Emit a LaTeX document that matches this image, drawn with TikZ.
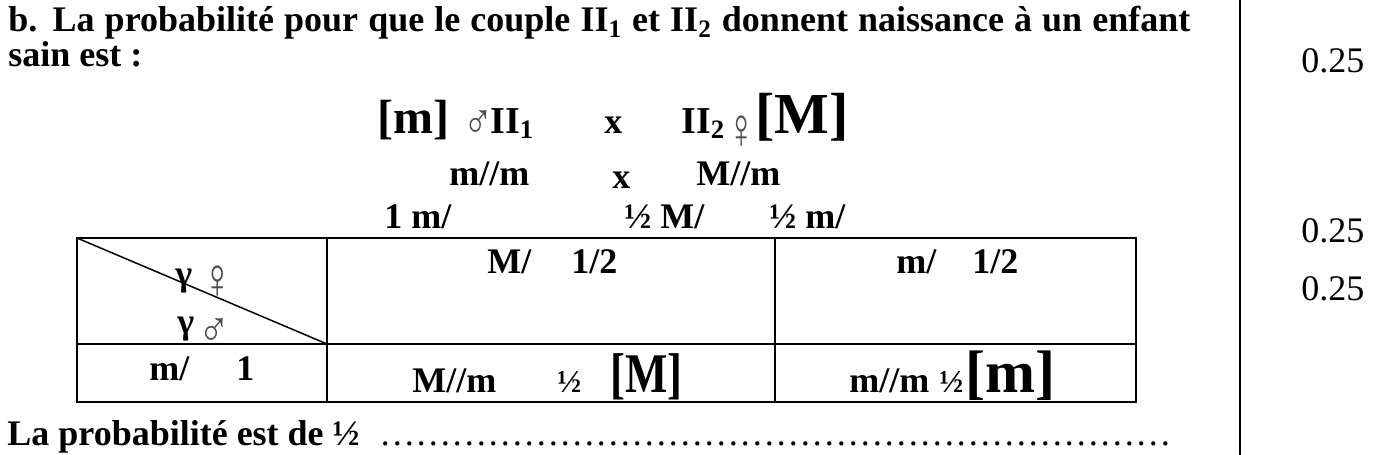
\documentclass[tikz,border=0pt]{standalone}
\usepackage{fontspec}
\setmainfont{Liberation Serif}
\newcommand{\narrow}[2]{\scalebox{#1}[1]{#2}}
\tikzset{
  txt/.style={anchor=base west, inner sep=0pt, font=\bfseries\fontsize{18}{20}\selectfont},
  reg/.style={anchor=base west, inner sep=0pt, font=\fontsize{18}{20}\selectfont},
  half/.style={anchor=base west, inner sep=0pt, font=\bfseries\fontsize{16}{18}\selectfont},
  gen/.style={anchor=base west, inner sep=0pt, font=\bfseries\fontsize{19}{22}\selectfont},
  brk/.style={anchor=base west, inner sep=0pt, font=\bfseries\fontsize{24}{27}\selectfont},
  brkM/.style={anchor=base west, inner sep=0pt, font=\bfseries\fontsize{29}{32}\selectfont},
  brkL/.style={anchor=base west, inner sep=0pt, font=\bfseries\fontsize{30}{33}\selectfont},
  brkS/.style={anchor=base west, inner sep=0pt, font=\bfseries\fontsize{28}{31}\selectfont},
  sym/.style={anchor=base west, inner sep=0pt, text height=0.45em, text depth=0pt, font=\fontsize{25}{28}\selectfont, text=black!70},
  symF/.style={anchor=base west, inner sep=0pt, text height=0.5em, text depth=0pt, font=\fontsize{29}{31}\selectfont, text=black!70},
  tline/.style={line width=1.25pt},
  dline/.style={line width=0.75pt},
}
\begin{document}
\begin{tikzpicture}[x=0.5pt,y=-0.5pt]
\fill[white] (0,0) rectangle (1387,455);
\useasboundingbox (0,0) rectangle (1387,455);
% heading
\node[txt] (l1) at (8,32) {\hbox to 591pt{b. La probabilité pour que le couple II\textsubscript{1} et II\textsubscript{2} donnent naissance à un enfant}};
\node[txt] (l2) at (8,66) {sain est :};
% cross
\node[brk] (pm) at (377,133) {[m]};
\node[sym] (male1) at (463,138) {\narrow{0.8}{♂}};
\node[gen] (g1) at (490,133) {II\textsubscript{1}};
\node[txt] (x1) at (604,133) {x};
\node[gen] (g2) at (681,133) {II\textsubscript{2}};
\node[symF] (fem1) at (727,148) {\narrow{0.65}{♀}};
\node[brkM] (pM) at (755,133) {[M]};
% genotypes
\node[txt] (gt1) at (449,185) {m//m};
\node[txt] (x2) at (612,188) {x};
\node[txt] (gt2) at (696,185) {M//m};
% gametes
\node[txt] (ga1) at (384,228) {1 m/};
\node[txt] (ga2) at (624,228) {½ M/};
\node[txt] (ga3) at (769,228) {½ m/};
% table
\coordinate (tl) at (77,238);
\coordinate (tr) at (1136,238);
\coordinate (bl) at (77,402);
\coordinate (br) at (1136,402);
\coordinate (ml) at (77,344);
\coordinate (mr) at (1136,344);
\coordinate (c1t) at (327,238);
\coordinate (c1b) at (327,402);
\coordinate (c1m) at (327,344);
\coordinate (c2t) at (775,238);
\coordinate (c2b) at (775,402);
\draw[tline] (tl) rectangle (br);
\draw[tline] (ml) -- (mr);
\draw[tline] (c1t) -- (c1b);
\draw[tline] (c2t) -- (c2b);
\draw[dline] (tl) -- (c1m);
\node[txt] (gf) at (175,285) {γ};
\node[symF] (fem2) at (202,298) {\narrow{0.7}{♀}};
\node[txt] (gm) at (177,333) {γ};
\node[sym] (male2) at (198,346) {\narrow{0.85}{♂}};
\node[txt] (h1) at (487,273) {M/};
\node[txt] (h2) at (571,273) {1/2};
\node[txt] (h3) at (896,273) {m/};
\node[txt] (h4) at (972,273) {1/2};
\node[txt] (r1) at (149,380) {m/};
\node[txt] (r2) at (236,380) {1};
\node[txt] (c1) at (412,392) {M//m};
\node[half] (c2) at (557,392) {½};
\node[brkS] (c3) at (610,392) {\narrow{0.8}{[M]}};
\node[txt] (c4) at (849,392) {m//m};
\node[half] (c5) at (939,392) {½};
\node[brkL] (c6) at (965,392) {[m]};
% conclusion
\node[txt] (conc) at (7,445) {La probabilité est de ½};
\node[reg] (dots) at (379,445) {…………………………………………………………};
% right column
\coordinate (bt) at (1240,0);
\coordinate (bb) at (1240,455);
\draw[tline] (bt) -- (bb);
\node[reg] (s1) at (1301,72) {0.25};
\node[reg] (s2) at (1301,242) {0.25};
\node[reg] (s3) at (1301,300) {0.25};
\end{tikzpicture}
\end{document}
